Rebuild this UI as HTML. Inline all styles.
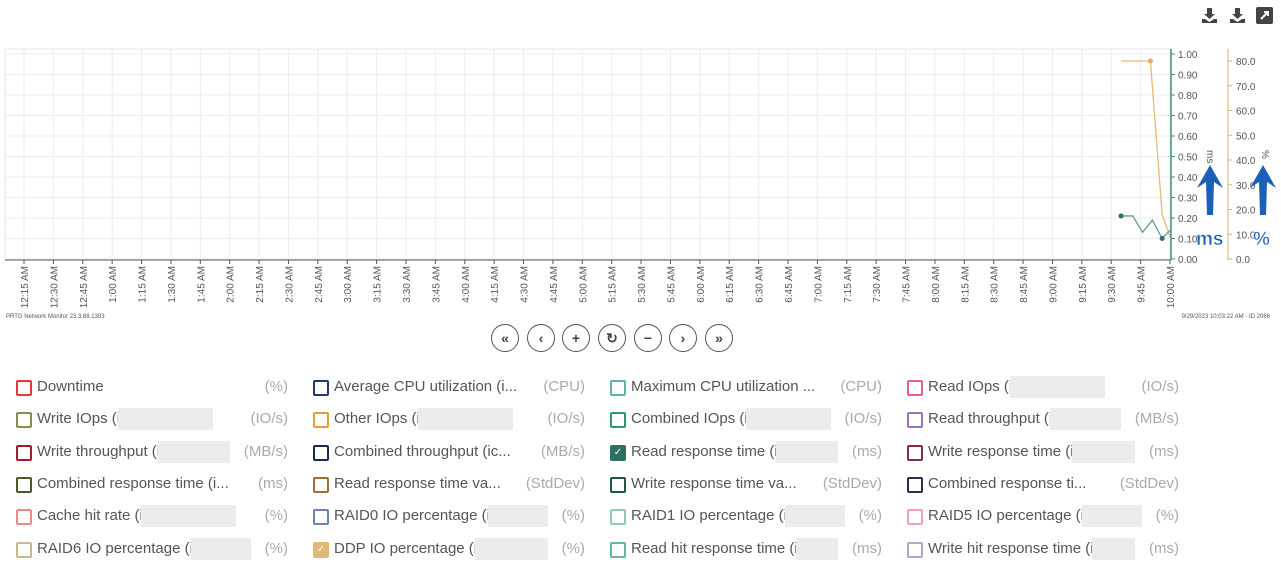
<!DOCTYPE html>
<html><head><meta charset="utf-8"><style>
body{margin:0;width:1281px;height:580px;background:#fff;font-family:"Liberation Sans",sans-serif;position:relative;overflow:hidden}
.leg{position:absolute;font-size:15px;color:#555;height:20px;width:272px}
.leg .box{position:absolute;left:0;top:2px;width:12px;height:12px;border:2px solid;border-radius:2px}
.leg .lab{position:absolute;left:21px;top:0;white-space:nowrap}
.leg .unit{position:absolute;right:0;top:0;color:#aaa}
.leg .blur{position:absolute;top:-2px;height:22px;background:#ececec}
.leg .chk{color:#fff;font-size:10px;line-height:12px;text-align:center}
.btn{position:absolute;top:324px;width:26px;height:26px;border:1.5px solid #555;border-radius:50%;font-size:14px;font-weight:bold;color:#444;text-align:center;line-height:26px}
.ico{position:absolute;top:7px;width:17px;height:17px}
</style></head><body>
<svg class="ico" style="left:1201px" viewBox="0 0 17 17"><path d="M6 1h5v6h3l-5.5 5L3 7h3z M1 12h3l4.5 3 4.5-3h3v4H1z" fill="#444"/></svg>
<svg class="ico" style="left:1229px" viewBox="0 0 17 17"><path d="M6 1h5v6h3l-5.5 5L3 7h3z M1 12h3l4.5 3 4.5-3h3v4H1z" fill="#444"/></svg>
<svg class="ico" style="left:1256px" viewBox="0 0 17 17"><rect x="0" y="0" width="17" height="17" rx="2" fill="#444"/><path d="M5 12L12 5M8 5h4v4" stroke="#fff" stroke-width="2" fill="none"/></svg>

<svg id="chart" width="1281" height="330" style="position:absolute;left:0;top:0"></svg>

<div class="btn" style="left:491px">«</div>
<div class="btn" style="left:527px">‹</div>
<div class="btn" style="left:562px">+</div>
<div class="btn" style="left:598px">↻</div>
<div class="btn" style="left:634px">−</div>
<div class="btn" style="left:669px">›</div>
<div class="btn" style="left:705px">»</div>

<div id="legend"></div>

<script>
const NS='http://www.w3.org/2000/svg';
const svg=document.getElementById('chart');
const xLabels=[];
for(let m=15;m<=600;m+=15){let h=Math.floor(m/60),mm=m%60;xLabels.push((h===0?12:h)+':'+(mm<10?'0':'')+mm+' AM');}
const msTicks=[0,0.1,0.2,0.3,0.4,0.5,0.6,0.7,0.8,0.9,1.0];
const pctTicks=[0,10,20,30,40,50,60,70,80];
const readTimes=[575,581,586,591,596,600];
const readValues=[0.21,0.21,0.13,0.19,0.10,0.14];
const ddpTimes=[575,590,596,600];
const ddpValues=[80,80,18,9];
const L=5,R=1171,T=49,B=260;
const X=m=>24+(m-15)*(1170-24)/585;
const Yms=v=>259-v*205;
const Yp=v=>259-v*(198/80);
function el(t,a,txt){const e=document.createElementNS(NS,t);for(const k in a)e.setAttribute(k,a[k]);if(txt!==undefined)e.textContent=txt;svg.appendChild(e);return e;}
let e=el('rect',{x:L,y:T,width:R-L,height:B-T,fill:'none',stroke:'#e4e4e4'});

msTicks.forEach(v=>{
 e=el('line',{x1:L,x2:R,y1:Yms(v),y2:Yms(v),stroke:'#ececec'});
 
 e=el('line',{x1:R,x2:R+4,y1:Yms(v),y2:Yms(v),stroke:'#3f8f84'});
 
 e=el('text',{x:R+7,y:Yms(v)+4,'font-size':10,fill:'#555'},v.toFixed(2));
 
});
pctTicks.forEach(v=>{
 e=el('line',{x1:1228,x2:1232,y1:Yp(v),y2:Yp(v),stroke:'#d9b27a'});
 
 e=el('text',{x:1236,y:Yp(v)+4,'font-size':10,fill:'#555'},v.toFixed(1));
 
});
xLabels.forEach((s,i)=>{
 const x=X(15+i*15);
 e=el('line',{x1:x,x2:x,y1:T,y2:B,stroke:'#ececec'});
 
 e=el('line',{x1:x,x2:x,y1:B,y2:B+4,stroke:'#555'});
 
 e=el('text',{x:0,y:0,'font-size':10,fill:'#555','text-anchor':'end',transform:`translate(${x+4},${B+6}) rotate(-90)`},s);
 
});
e=el('line',{x1:L,x2:R,y1:B,y2:B,stroke:'#555'});
e=el('line',{x1:R,x2:R,y1:T,y2:B,stroke:'#3f8f84','stroke-width':1.5});
e=el('line',{x1:1228,x2:1228,y1:T,y2:B,stroke:'#d9b27a'});
e=el('text',{x:0,y:0,'font-size':10,fill:'#555',transform:'translate(1207,150) rotate(90)'},'ms');
e=el('text',{x:0,y:0,'font-size':10,fill:'#555',transform:'translate(1262,150) rotate(90)'},'%');
e=el('polyline',{points:ddpTimes.map((t,i)=>X(t)+','+Yp(ddpValues[i])).join(' '),fill:'none',stroke:'#e8b878','stroke-width':1.3});

e=el('polyline',{points:readTimes.map((t,i)=>X(t)+','+Yms(readValues[i])).join(' '),fill:'none',stroke:'#5f9f97','stroke-width':1.3});

[1].forEach(i=>{e=el('circle',{cx:X(ddpTimes[i]),cy:Yp(ddpValues[i]),r:2.5,fill:'#e0a860'});});
[0,4].forEach(i=>{e=el('circle',{cx:X(readTimes[i]),cy:Yms(readValues[i]),r:2.5,fill:'#2e6e66'});});
[[1210,'ms',1196],[1263,'%',1253]].forEach(([x,t,tx])=>{
 e=el('path',{d:`M${x} 165 L${x+13} 188 L${x+4} 182 L${x+3} 215 L${x-3} 215 L${x-4} 182 L${x-13} 188 Z`,fill:'#1a5fb8'});
 
 e=el('text',{x:tx,y:245,'font-size':19,'font-weight':'bold',fill:'#1a5fb8',stroke:'#fff','stroke-width':0.5},t);
 
});
e=el('text',{x:6,y:318,'font-size':6,fill:'#555'},'PRTG Network Monitor 23.3.88.1393');
e=el('text',{x:1270,y:318,'font-size':6,fill:'#555','text-anchor':'end'},'9/29/2023 10:03:22 AM - ID 2066');

const items=[
['Downtime','(%)','#e8323c'],['Average CPU utilization (i...','(CPU)','#1f3a6b'],['Maximum CPU utilization ...','(CPU)','#5fb3a8'],['Read IOps (i','(IO/s)','#e8608a'],
['Write IOps (i','(IO/s)','#8a8a4a'],['Other IOps (i','(IO/s)','#e0a040'],['Combined IOps (i','(IO/s)','#2a9a70'],['Read throughput (i','(MB/s)','#9a70b8'],
['Write throughput (i','(MB/s)','#a01c2c'],['Combined throughput (ic...','(MB/s)','#1a2a50'],['Read response time (i','(ms)','#2e6e66',1],['Write response time (i','(ms)','#8a2a50'],
['Combined response time (i...','(ms)','#4a5a2a'],['Read response time va...','(StdDev)','#a07030'],['Write response time va...','(StdDev)','#1a5a40'],['Combined response ti...','(StdDev)','#3a2a4a'],
['Cache hit rate (i','(%)','#f08888'],['RAID0 IO percentage (i','(%)','#7080b0'],['RAID1 IO percentage (i','(%)','#90c8c0'],['RAID5 IO percentage (i','(%)','#f0a0b8'],
['RAID6 IO percentage (i','(%)','#c8b890'],['DDP IO percentage (i','(%)','#e0b878',1],['Read hit response time (i','(ms)','#60b8a0'],['Write hit response time (i','(ms)','#b8a0d0']];
const leg=document.getElementById('legend');
items.forEach((it,i)=>{
 const d=document.createElement('div');d.className='leg';
 
 
 d.style.left=(16+(i%4)*297)+'px';d.style.top=(378+Math.floor(i/4)*32.3)+'px';
 const checked=it[3];
 d.innerHTML=`<div class="box${checked?' chk':''}" style="border-color:${it[2]};${checked?'background:'+it[2]:''}">${checked?'✓':''}</div><span class="lab">${it[0]}</span><span class="unit">${it[1]}</span>`;
 leg.appendChild(d);
 if(!/\.\.\.$/.test(it[0])&&it[0]!=='Downtime'){
  const lab=d.querySelector('.lab'),unit=d.querySelector('.unit');
  const start=21+lab.offsetWidth-2, end=unit.offsetLeft-14;
  const w=Math.min(95,end-start);
  if(w>10){const b=document.createElement('div');b.className='blur';b.style.left=start+'px';b.style.width=w+'px';d.appendChild(b);}
 }
});
</script>
</body></html>
